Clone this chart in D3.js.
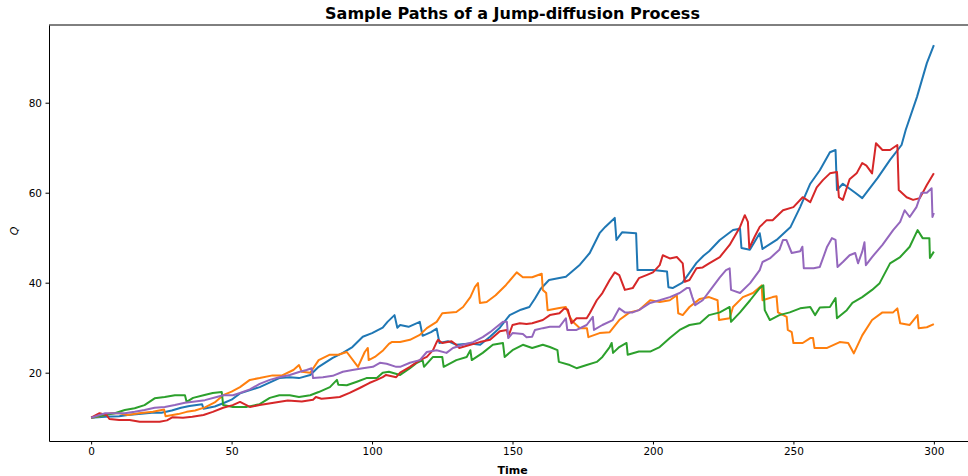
<!DOCTYPE html>
<html>
<head>
<meta charset="utf-8">
<script src="https://cdn.jsdelivr.net/npm/d3@7"></script>
<style>
  html, body { margin: 0; padding: 0; background: #fff; }
  svg { display: block; font-family: "DejaVu Sans", sans-serif; }
  .tick text { font-size: 10.5px; fill: #000; }
</style>
</head>
<body>
<svg id="chart" width="968" height="476"></svg>
<script>
// Sample paths: [time, Q]
const path1 = [[0,10],[5,10.2],[10,10.3],[13,10.6],[17,10.8],[21.6,11.1],[25,11.1],[28.7,11.6],[32,12.2],[35,12.6],[39.5,13],[40,12],[44,12.5],[47,13.2],[50,14],[53,15.4],[60,16.8],[67,18.8],[70.7,19],[74,18.8],[78,19.5],[81,21.3],[86,23.3],[89.6,24.4],[93,25.7],[96.7,28],[100,28.8],[103.8,30],[105.5,31.3],[108,32.8],[109,30],[110,30.6],[113,30.2],[117,31.3],[118,28.2],[121,29],[123,29.8],[124,26.6],[127,27],[130,26.2],[135,26.5],[138.5,26.2],[142,28],[145.5,30],[149,32.8],[153,34],[156,34.6],[158,36.5],[160,38.6],[163,40.6],[169,41.3],[174,44],[177.5,46.6],[181,51],[183,52.4],[186.4,54.4],[187,49.5],[189,51.2],[194,51],[194.5,42.8],[200,42.8],[205,42.5],[205.5,39],[207,38.8],[210.5,40],[215.5,44.4],[218,46],[220,47],[223.8,49.5],[228.5,51.7],[231,52],[231.5,47.7],[234.5,47.3],[238,51],[239,47.5],[244,49.5],[249,52.4],[252.4,56.8],[256,62],[259.4,65],[263,69],[265,69.5],[265.5,60.6],[267.6,62],[272,60],[274.5,58.8],[280,63.3],[284.4,67.3],[288.5,70.6],[290,74],[294,81.3],[297.5,88.8],[300,92.8]];

const path2 = [[0,10],[3,10.3],[7,11],[10,11],[13,10.6],[17,11],[22,11.3],[26,11.8],[26.5,10.3],[31,10.8],[34,11.3],[37,11.6],[40.5,12.3],[44,13.4],[47,15],[50,15.8],[53,16.8],[56.5,18.4],[60,18.8],[64.6,19.4],[68,19.4],[72,20.6],[74,21.7],[75,20.2],[78,20],[81,22.8],[85,24],[88,24],[91,24.6],[95,21.3],[97.4,24.6],[98.5,25.5],[98.8,22.8],[101,23.5],[104,25],[106,26.4],[107,26.8],[110,26.8],[113.5,27.3],[117,28.4],[119.5,29.9],[123,31.3],[125,33.2],[130,33.5],[132.4,34.6],[135,36.8],[136.6,39],[137.7,39.9],[138.4,35.5],[140.8,35.7],[144,37.2],[147.7,39.5],[151.5,42.3],[153.7,41.2],[157,41.2],[160.4,42],[160.8,38.4],[162,37.7],[162.5,33.9],[166.7,34.4],[169,34.6],[170.4,32.4],[171.5,31.3],[174,29.9],[176.5,29.9],[177,27.9],[181,28.8],[184.6,29],[188,31.7],[191.7,33.4],[195,33.9],[199,36.1],[202.4,35.7],[206,36.1],[208.5,37.2],[209,33.2],[210.6,32.8],[213,34.6],[216.7,36.4],[220,36.8],[223,36.1],[223.5,31.7],[227.3,32.1],[228.5,34.6],[232,36.8],[235.6,37.7],[238.7,39.4],[239,36.1],[242.6,36.8],[244,37],[244.5,33.4],[247.6,32.4],[248,29.5],[249.4,29],[250,26.6],[253.3,26.6],[256,27.7],[257,27.7],[257.5,25.5],[262,25.5],[266.5,26.8],[269.5,26.6],[271.5,24.3],[274.5,28.3],[278,31.7],[281.7,33.4],[285.5,33.4],[287,34.3],[288,31],[291.4,30.6],[294.2,32.8],[294.6,29.9],[297.5,30.1],[300,30.8]];

const path3 = [[0,10],[5,10.6],[8.4,11],[12,11.7],[15.5,12.1],[19,12.8],[22.6,14.3],[26.2,14.6],[29.8,15],[33.4,15],[34,13.5],[36.3,14.4],[40,15],[43.3,15.5],[46.5,15.7],[47,12.8],[50.5,12.4],[55.4,12.4],[60,13],[63.6,14.4],[67,15],[70.7,15],[74,14.6],[78,15],[81,15.7],[85,16.8],[87.5,18.4],[88,17.3],[91,17.2],[94.6,18],[98,18.8],[101.7,18.8],[103.8,20],[106,20.2],[110,19.5],[113.5,21],[116,22.2],[118,22.8],[118.5,21.3],[121.7,23.5],[125,23.5],[125.5,21.3],[130,22.8],[133.7,23.5],[135,25],[135.5,22.8],[139.4,24.4],[143,26.2],[146.6,26.6],[147.2,23.5],[150,25],[153.7,26.2],[157,25.5],[160.8,26.2],[163.3,25.7],[166,25],[166.5,22.4],[170.4,21.7],[172.8,21],[176.4,21.7],[180,22.4],[182,23.5],[184.6,25.7],[185.3,26.6],[185.8,24.4],[188,25.7],[190.6,26.6],[191,24],[195,24.7],[199,24.7],[202.4,25.7],[206,27.7],[209.5,29.5],[213,30.6],[216.7,31],[220,32.8],[223.8,33.4],[227.3,34.6],[227.8,31.3],[231,33.4],[234.6,36.1],[238,38.8],[239.3,39.4],[239.8,33.9],[241.6,31.7],[245,32.8],[248.7,33.4],[252.4,34.3],[256,34.6],[257.7,32.8],[259.4,34.5],[263,34.6],[265,36.6],[265.5,32.1],[269,33.9],[271,35.5],[274.5,36.8],[278,38.4],[280.7,39.9],[284.4,44.3],[288,45.7],[291.4,48],[294.2,51.7],[296,49.9],[298.4,49.9],[298.6,45.5],[300,46.9]];

const path4 = [[0,10],[3,11],[5.5,10.6],[6.5,9.7],[10,9.5],[13.7,9.5],[17.3,9.1],[21,9.1],[24.4,9.1],[27,9.4],[29,10.1],[32.7,10],[36,10.2],[40,10.6],[43.3,11.3],[47,12.2],[50.4,12.8],[53,13.5],[56.5,12.4],[60,12.8],[65,13.3],[70,13.8],[75,13.6],[79,14],[80,14.6],[82,14.2],[85,14.4],[88.5,14.6],[92,15.5],[95.6,16.6],[99,17.7],[101.7,18.4],[103.8,19],[105,19.5],[108.6,19],[110,20],[113.5,21.3],[117,22.8],[119.5,23.5],[121.7,25],[123,26.8],[123.5,27.3],[125,26.6],[128.3,27],[130,26.2],[131,25.5],[135,26.2],[138.4,26.8],[142,27.3],[145.5,29.2],[148,29.5],[148.5,28],[150,30.6],[152.6,31],[155,30.8],[157,31],[160.8,31.7],[163.3,32.8],[166.7,33.2],[168.5,34.3],[169.7,34],[171,31],[172.8,32.1],[176.4,32.1],[177.5,33.2],[180,36.1],[182,37.7],[184.6,40.6],[186.4,42.3],[188,41.7],[190,38.4],[192.8,38.8],[195,41],[197.7,41.7],[200,42.3],[202.4,43.9],[203.5,46.1],[206,45.4],[208.5,45.7],[210.6,44.3],[211.3,40.2],[213,40.6],[215.5,43.2],[217.7,43.4],[220,44.3],[223.8,45.7],[227.3,48.4],[231,52.4],[232.7,55],[233.8,53.5],[234.3,47.7],[236.2,50.2],[238,52.4],[240.5,53.9],[242.6,53.9],[246.3,56.1],[250,56.8],[253.3,59],[256,57.9],[258.3,61.2],[260.5,62.8],[263,64.3],[265.5,64.6],[266.2,59],[267.6,58.4],[270,63],[272.5,64.3],[274.5,66.6],[276,66],[278,64.3],[279.4,71],[281.7,69.5],[284.4,69.5],[287,70.6],[287.5,60.6],[290.3,59],[292.6,58.4],[295,58.8],[297.5,61.7],[300,64.3]];

const path5 = [[0,10],[5,11],[8.4,11],[12,11],[15.5,11.3],[19,11.7],[22.6,12.2],[26.2,12.4],[29.8,12.8],[33.4,13.3],[37,13.6],[40.5,13.9],[44.7,14.6],[47,15],[50.5,15],[53,15.5],[56.5,16.3],[60,17.5],[63.6,18.4],[67,19],[70.7,19.5],[74.3,20.2],[76.7,20.6],[78.5,21],[79,18.8],[82.5,19],[86,19.3],[89.6,20.2],[93,20.6],[96.7,21],[100.3,21.3],[102.8,22.2],[105.2,22],[108.6,21.3],[110,21.3],[113.5,22.2],[117,22.8],[119.5,24.6],[123,25],[126.5,24.4],[128.8,25.5],[132.4,26.2],[136,26.8],[139.4,27.9],[142,29],[144.4,30.2],[146.6,31.3],[148,31.3],[148.5,27.7],[150,28.8],[153.7,28.6],[155,27.9],[157,28],[158,29.5],[160.8,29.9],[163.3,30.2],[166.7,30.2],[169,32.1],[169.5,29.5],[172.8,29.5],[176.4,30.6],[178.6,32.4],[179,29.5],[182,30.6],[185.7,31.7],[188,34.3],[190,33.4],[192.8,33.4],[195,33.9],[199,35.5],[202.4,36.1],[206,36.8],[209.5,37.7],[212,38.8],[213,38.8],[214,36.8],[215,35],[217.7,36.1],[220,38],[223.8,41.2],[226,42.8],[227.3,43.2],[227.8,38.4],[231,37.7],[234.6,39.9],[238,42.8],[239,44.6],[241.6,45.4],[245,47.3],[246.3,49.5],[247.5,49.5],[249.4,46.6],[252.4,47],[253.2,48],[253.7,43.2],[257.2,43.2],[259.4,43.5],[262,48],[263.7,49.9],[265,49.5],[265.7,43.5],[267.6,44.6],[270,46.1],[272,46.6],[273,44.3],[274.5,46.9],[275.3,49],[275.8,43.9],[278,45.7],[281.7,48.4],[285.5,51.7],[288,53.5],[289.6,56.1],[291.4,54.6],[293.8,56.8],[295.6,60],[297.5,60],[299.2,61],[299.5,54.6],[300,55.5]];

const paths = [path1, path2, path3, path4, path5];
const colors = ["#1f77b4", "#ff7f0e", "#2ca02c", "#d62728", "#9467bd"];
const xTicks = [0, 50, 100, 150, 200, 250, 300];
const yTicks = [20, 40, 60, 80];
const title = "Sample Paths of a Jump-diffusion Process";

const margin = { top: 25, right: -8, bottom: 35, left: 49 };
const width = 968, height = 476;
const plotW = width - margin.left - margin.right;
const plotH = height - margin.top - margin.bottom;

const svg = d3.select("#chart");

const x = d3.scaleLinear().domain([-15, 315]).range([0, plotW]);
const y = d3.scaleLinear().domain([4.82, 97.27]).range([plotH, 0]);

const g = svg.append("g").attr("transform", `translate(${margin.left},${margin.top})`);

g.append("defs").append("clipPath").attr("id", "clip")
  .append("rect").attr("width", plotW).attr("height", plotH);

const line = d3.line().x(d => x(d[0])).y(d => y(d[1]));

const lines = g.append("g").attr("clip-path", "url(#clip)");
paths.forEach((p, i) => {
  lines.append("path")
    .attr("d", line(p))
    .attr("fill", "none")
    .attr("stroke", colors[i])
    .attr("stroke-width", 2)
    .attr("stroke-linejoin", "round");
});

// axes
const xAxis = g.append("g").attr("transform", `translate(0,${plotH})`)
  .call(d3.axisBottom(x).tickValues(xTicks).tickSize(3.5).tickSizeOuter(0).tickPadding(3.5));
const yAxis = g.append("g")
  .call(d3.axisLeft(y).tickValues(yTicks).tickSize(3.5).tickSizeOuter(0).tickPadding(3.5));
[xAxis, yAxis].forEach(a => {
  a.select(".domain").attr("stroke", "#000").attr("stroke-width", 1);
  a.selectAll(".tick line").attr("stroke", "#000").attr("stroke-width", 1);
  a.selectAll(".tick text").attr("font-family", "DejaVu Sans").attr("font-size", 10.5);
});

// top spine
g.append("line").attr("x1", 0).attr("x2", plotW).attr("y1", 0).attr("y2", 0)
  .attr("stroke", "#000").attr("stroke-width", 1);

// title and axis labels
svg.append("text")
  .attr("x", margin.left + plotW / 2).attr("y", 19)
  .attr("text-anchor", "middle")
  .attr("font-size", 16).attr("font-weight", "bold")
  .text(title);

svg.append("text")
  .attr("x", margin.left + plotW / 2).attr("y", 474)
  .attr("text-anchor", "middle")
  .attr("font-size", 11).attr("font-weight", "bold")
  .text("Time");

svg.append("text")
  .attr("transform", `translate(18,${margin.top + y(51.5)}) rotate(-90)`)
  .attr("text-anchor", "middle")
  .attr("font-size", 11).attr("font-style", "italic")
  .text("Q");
</script>
</body>
</html>
